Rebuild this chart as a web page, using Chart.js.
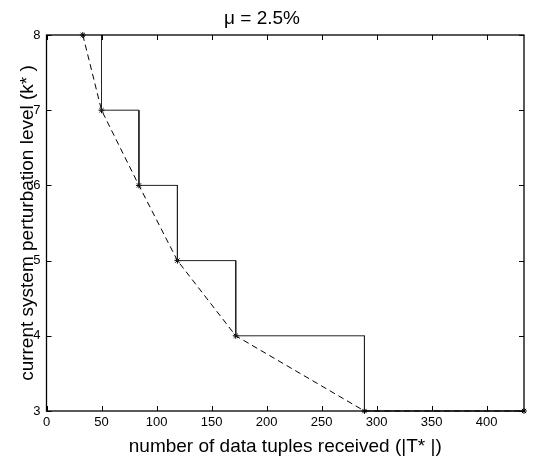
<!DOCTYPE html>
<html><head><meta charset="utf-8">
<script src="https://cdn.jsdelivr.net/npm/chart.js@4/dist/chart.umd.min.js"></script>
<style>html,body{margin:0;padding:0;background:#fff}#c{display:block}</style>
</head><body>
<canvas id="c" width="534" height="462"></canvas>
<script>
// data
const tuplesReceived = [33, 50, 84, 119, 172, 289, 434];
const perturbLevel   = [8, 7, 6, 5, 4, 3, 3];
const stepX = [50, 50, 84, 84, 119, 119, 172, 172, 289, 289, 434];
const stepY = [8, 7, 7, 6, 6, 5, 5, 4, 4, 3, 3];
const xTicks = [0, 50, 100, 150, 200, 250, 300, 350, 400];
const yTicks = [3, 4, 5, 6, 7, 8];
const xMax = 434;

const font = 'Liberation Sans, Arial, sans-serif';

const boxPlugin = {
  id: 'box',
  afterDatasetsDraw(chart) {
    const {ctx, chartArea: a, scales: {x, y}} = chart;
    ctx.save();
    ctx.strokeStyle = '#000';
    ctx.lineWidth = 1;
    ctx.beginPath();
    xTicks.forEach(v => {
      const px = Math.round(x.getPixelForValue(v)) + 0.5;
      ctx.moveTo(px, a.bottom); ctx.lineTo(px, a.bottom - 5);
      ctx.moveTo(px, a.top); ctx.lineTo(px, a.top + 5);
    });
    yTicks.forEach(v => {
      const py = Math.round(y.getPixelForValue(v)) + 0.5;
      ctx.moveTo(a.left, py); ctx.lineTo(a.left + 5, py);
      ctx.moveTo(a.right, py); ctx.lineTo(a.right - 5, py);
    });
    ctx.stroke();
    ctx.lineWidth = 1.3;
    ctx.strokeRect(a.left, a.top, a.right - a.left, a.bottom - a.top);
    ctx.restore();
  }
};

new Chart(document.getElementById('c'), {
  type: 'scatter',
  data: {
    datasets: [
      {
        data: stepX.map((v, i) => ({x: v, y: stepY[i]})),
        showLine: true, borderColor: '#222', borderWidth: 1,
        pointRadius: 0, fill: false, tension: 0
      },
      {
        data: tuplesReceived.map((v, i) => ({x: v, y: perturbLevel[i]})),
        showLine: true, borderColor: '#000', borderWidth: 1, borderDash: [6, 4],
        pointStyle: 'star', pointRadius: 3, pointBorderColor: '#000', pointBorderWidth: 1,
        pointBackgroundColor: '#000', fill: false, tension: 0
      }
    ]
  },
  options: {
    responsive: false, animation: false, devicePixelRatio: 1,
    clip: false,
    layout: {padding: {left: 0, right: 10, top: 0, bottom: 0}},
    plugins: {
      legend: {display: false}, tooltip: {enabled: false},
      title: {display: true, text: 'μ = 2.5%', color: '#000',
        font: {family: font, size: 19, weight: 'normal', lineHeight: 1.2}, padding: {top: 7.6, bottom: 4.6}}
    },
    scales: {
      x: {
        type: 'linear', min: 0, max: xMax,
        afterBuildTicks: s => { s.ticks = xTicks.map(v => ({value: v})); },
        afterFit: s => { s.height = 51; },
        grid: {display: false, drawTicks: false},
        border: {display: false},
        ticks: {color: '#000', font: {family: font, size: 13}, padding: 4, maxRotation: 0},
        title: {display: true, text: 'number of data tuples received (|T* |)', color: '#000',
          font: {family: font, size: 19, lineHeight: 1.2}, padding: {top: 0, bottom: 3.6}}
      },
      y: {
        type: 'linear', min: 3, max: 8,
        afterBuildTicks: s => { s.ticks = yTicks.map(v => ({value: v})); },
        afterFit: s => { s.width = 46.5; },
        grid: {display: false, drawTicks: false},
        border: {display: false},
        ticks: {color: '#000', font: {family: font, size: 13}, padding: 6},
        title: {display: true, text: 'current system perturbation level (k* )', color: '#000',
          font: {family: font, size: 19, lineHeight: 1.2}, padding: {top: 16, bottom: 0}}
      }
    }
  },
  plugins: [boxPlugin]
});
</script>
</body></html>
